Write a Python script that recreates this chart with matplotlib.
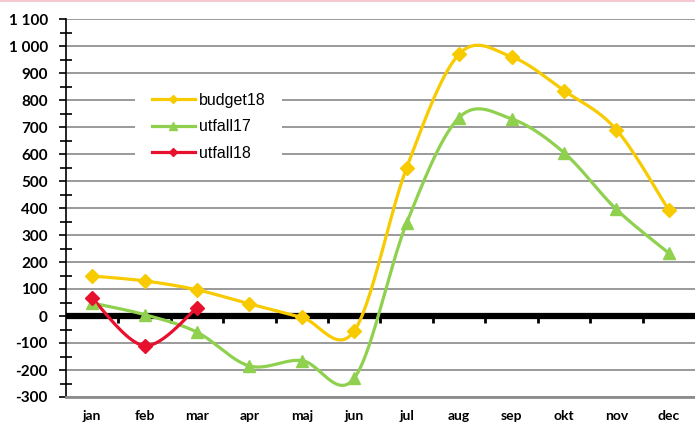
import numpy as np
import matplotlib.pyplot as plt
from matplotlib.ticker import MultipleLocator, FuncFormatter, FixedLocator
from matplotlib.lines import Line2D

months = ['jan', 'feb', 'mar', 'apr', 'maj', 'jun', 'jul', 'aug', 'sep', 'okt', 'nov', 'dec']
budget18 = [148, 130, 97, 45, -5, -55, 550, 970, 960, 835, 690, 392]
utfall17 = [48, 5, -60, -185, -165, -230, 345, 735, 730, 605, 395, 233]
utfall18 = [65, -110, 30]

c_budget = '#F7CB00'
c_utf17 = '#8FD14F'
c_utf18 = '#E8112D'


def smooth(y, n=30):
    # Excel style smoothed line: cubic bezier with catmull-rom control points
    y = np.asarray(y, float)
    x = np.arange(len(y), dtype=float)
    pts = np.column_stack([x, y])
    out = []
    for i in range(len(pts) - 1):
        p0 = pts[max(i - 1, 0)]
        p1 = pts[i]
        p2 = pts[i + 1]
        p3 = pts[min(i + 2, len(pts) - 1)]
        c1 = p1 + (p2 - p0) / 6
        c2 = p2 - (p3 - p1) / 6
        t = np.linspace(0, 1, n)[:, None]
        seg = (1 - t) ** 3 * p1 + 3 * (1 - t) ** 2 * t * c1 + 3 * (1 - t) * t ** 2 * c2 + t ** 3 * p2
        out.append(seg if i == 0 else seg[1:])
    seg = np.vstack(out)
    return seg[:, 0], seg[:, 1]


fig = plt.figure(figsize=(6.95, 4.24), dpi=100)
ax = fig.add_axes([66 / 695, 27 / 424, 629 / 695, 378 / 424])

ax.set_xlim(-0.5, 11.5)
ax.set_ylim(-300, 1100)

# gridlines
ax.yaxis.set_major_locator(MultipleLocator(100))
ax.yaxis.set_minor_locator(MultipleLocator(50))
ax.grid(axis='y', which='major', color='#7f7f7f', lw=1.1, zorder=0.5)
ax.set_axisbelow(True)

# small ticks under the zero line at category boundaries
ax2 = ax.twiny()
ax2.set_xlim(ax.get_xlim())
ax2.spines['bottom'].set_position(('data', 0))
ax2.spines['bottom'].set_visible(False)
for s in ['top', 'left', 'right']:
    ax2.spines[s].set_visible(False)
ax2.xaxis.set_ticks_position('bottom')
ax2.xaxis.set_major_locator(FixedLocator(np.arange(0.5, 11.5, 1)))
ax2.tick_params(axis='x', direction='out', length=5, width=2, labelbottom=False, labeltop=False, top=False)
ax2.set_zorder(0.8)
ax.set_zorder(1)
ax.patch.set_visible(False)

ax.axhline(0, color='black', lw=4.5, zorder=2)

series = [(budget18, c_budget, 'D', 'budget18', 7),
          (utfall17, c_utf17, '^', 'utfall17', 8),
          (utfall18, c_utf18, 'D', 'utfall18', 7)]
handles = []
for vals, col, mk, lab, ms in series:
    xs, ys = smooth(vals)
    ax.plot(xs, ys, color=col, lw=2.3, zorder=3, solid_capstyle='round')
    ax.plot(np.arange(len(vals)), vals, ls='none', marker=mk, ms=ms, color=col, zorder=4)
    handles.append(Line2D([], [], color=col, lw=2.3, marker=mk, ms=ms - 2.5, label=lab))

ax.set_xticks(np.arange(len(months)))
ax.set_xticklabels(months)
ax.tick_params(axis='x', length=0, pad=9)
for lbl in ax.get_xticklabels():
    lbl.set_fontfamily('Lato')
    lbl.set_fontweight('bold')
    lbl.set_fontsize(10)

ax.yaxis.set_major_formatter(FuncFormatter(lambda v, p: f'{int(v):,}'.replace(',', ' ')))
ax.tick_params(axis='y', which='major', direction='out', length=5, width=1.2, pad=8)
ax.tick_params(axis='y', which='minor', direction='inout', length=8, width=1.2)
for lbl in ax.get_yticklabels():
    lbl.set_fontfamily('Lato')
    lbl.set_fontweight('bold')
    lbl.set_fontsize(11)

for s in ['top', 'right']:
    ax.spines[s].set_visible(False)
ax.spines['left'].set_linewidth(1.2)
ax.spines['bottom'].set_color('#8c8c8c')
ax.spines['bottom'].set_linewidth(2)

leg = ax.legend(handles=handles, loc='upper left', bbox_to_anchor=(135 / 695, 1 - 76 / 424),
                bbox_transform=fig.transFigure, frameon=True, fancybox=False,
                facecolor='white', edgecolor='none', framealpha=1,
                prop={'family': 'Liberation Sans', 'size': 11.5},
                handlelength=2.7, handletextpad=0.25, labelspacing=0.72,
                borderpad=1.05, borderaxespad=0)
leg.set_zorder(2)

fig.add_artist(Line2D([0, 1], [0.998, 0.998], transform=fig.transFigure, color='#F6C9D2', lw=1.5))

fig.savefig('out.png', dpi=100)
